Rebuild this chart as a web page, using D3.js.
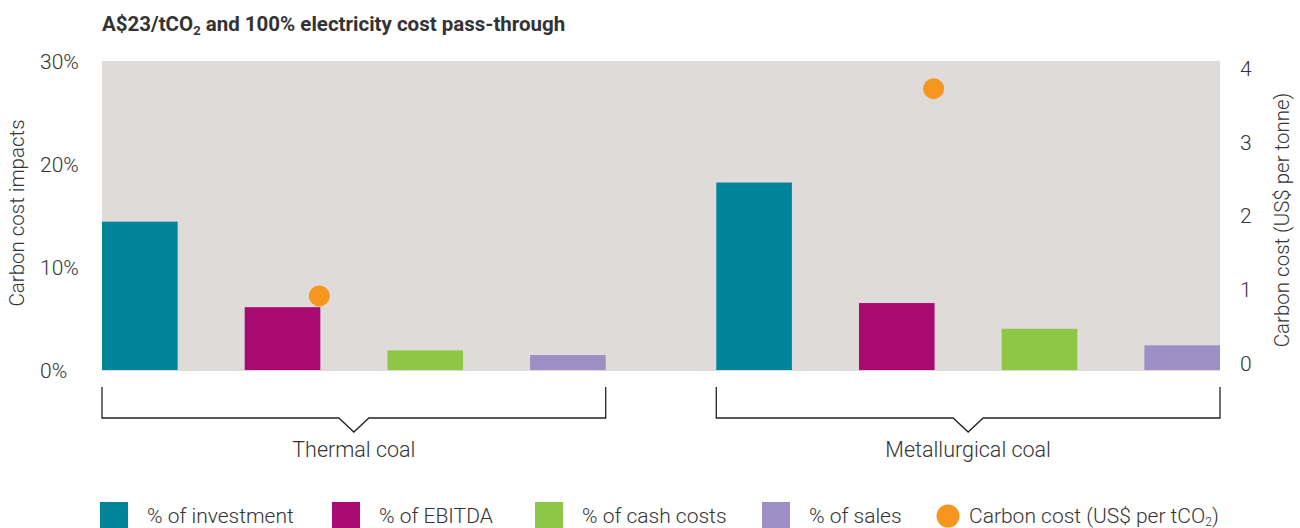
<!DOCTYPE html>
<html><head><meta charset="utf-8">
<script src="https://cdn.jsdelivr.net/npm/d3@7"></script>
<style>
body{margin:0;background:#fff;}
text{font-family:Roboto,"Noto Sans",sans-serif;fill:#333;}
</style></head>
<body><svg id="c" width="1300" height="528"></svg>
<script>
const groups = ["Thermal coal", "Metallurgical coal"];
const seriesNames = ["% of investment", "% of EBITDA", "% of cash costs", "% of sales"];
const investment = [14.4, 18.2];
const ebitda = [6.1, 6.5];
const cashCosts = [1.9, 4.0];
const sales = [1.45, 2.4];
const carbonCost = [0.91, 3.72];
const leftTicks = [0, 10, 20, 30];
const rightTicks = [0, 1, 2, 3, 4];
const colors = ["#00849a", "#a90a72", "#8dc745", "#9d8fc4"];
const dotColor = "#f7961f";

const seriesVals = [investment, ebitda, cashCosts, sales];
const svg = d3.select("#c");

const x0 = d3.scaleBand().domain(groups).range([102, 1220]).paddingInner(0.18).paddingOuter(0);
const x1 = d3.scaleBand().domain(seriesNames).range([0, x0.bandwidth()]).paddingInner(0.47).paddingOuter(0);
const y = d3.scaleLinear().domain([0, 30]).range([370, 61]);
const y2 = d3.scaleLinear().domain([0, 4]).range([363, 68]);

// background
svg.append("rect").attr("x", 102).attr("y", y(30)).attr("width", 1220 - 102).attr("height", 371 - y(30)).attr("fill", "#dfdbd8");

// bars
groups.forEach((g, gi) => {
  seriesNames.forEach((s, si) => {
    const v = seriesVals[si][gi];
    svg.append("rect")
      .attr("x", x0(g) + x1(s))
      .attr("y", y(v))
      .attr("width", x1.bandwidth())
      .attr("height", y(0) - y(v))
      .attr("fill", colors[si]);
  });
  svg.append("circle")
    .attr("cx", x0(g) + x1(seriesNames[1]) + x1.bandwidth() - 1)
    .attr("cy", y2(carbonCost[gi]))
    .attr("r", 10.5)
    .attr("fill", dotColor);
});

// left axis
const la = svg.append("g").attr("transform", "translate(40,0)")
  .call(d3.axisLeft(y).tickValues(leftTicks).tickFormat(d => d + "%").tickSize(0));
la.select(".domain").remove();
la.selectAll("text").attr("x", 0).attr("text-anchor", "start").attr("font-size", 21).attr("font-family", "Roboto").attr("font-weight", 300).attr("fill", "#333").attr("dy", "0.35em");

// right axis
const ra = svg.append("g").attr("transform", "translate(1240,0)")
  .call(d3.axisRight(y2).tickValues(rightTicks).tickFormat(d3.format("d")).tickSize(0));
ra.select(".domain").remove();
ra.selectAll("text").attr("x", 0).attr("text-anchor", "start").attr("font-size", 21).attr("font-family", "Roboto").attr("font-weight", 300).attr("fill", "#333").attr("dy", "0.35em");

// axis titles
svg.append("text").attr("transform", "translate(24,213) rotate(-90)").attr("text-anchor", "middle")
  .attr("font-size", 20.5).attr("font-weight", 300).text("Carbon cost impacts");
svg.append("text").attr("transform", "translate(1289,220) rotate(-90)").attr("text-anchor", "middle")
  .attr("font-size", 20.5).attr("font-weight", 300).text("Carbon cost (US$ per tonne)");

// title
const t = svg.append("text").attr("x", 102).attr("y", 31).attr("font-size", 20.5).attr("font-weight", 700).attr("fill", "#222");
t.append("tspan").text("A$23/tCO");
t.append("tspan").attr("font-size", 13).attr("dy", 4).text("2");
t.append("tspan").attr("dy", -4).text(" and 100% electricity cost pass-through");

// brackets
groups.forEach(g => {
  const l = x0(g), r = x0(g) + x0.bandwidth(), c = (l + r) / 2;
  const p = d3.path();
  p.moveTo(l, 387); p.lineTo(l, 418); p.lineTo(c - 15, 418); p.lineTo(c, 432); p.lineTo(c + 15, 418); p.lineTo(r, 418); p.lineTo(r, 387);
  svg.append("path").attr("d", p.toString()).attr("fill", "none").attr("stroke", "#222").attr("stroke-width", 1.3);
  svg.append("text").attr("x", c).attr("y", 457).attr("text-anchor", "middle").attr("font-size", 21.5).attr("font-weight", 300).text(g);
});

// legend
const legX = [100, 332, 535, 762];
seriesNames.forEach((s, i) => {
  svg.append("rect").attr("x", legX[i]).attr("y", 502).attr("width", 28).attr("height", 27).attr("fill", colors[i]);
  svg.append("text").attr("x", legX[i] + 47).attr("y", 523).attr("font-size", 21).attr("font-weight", 300).text(s);
});
svg.append("circle").attr("cx", 948).attr("cy", 516).attr("r", 11.5).attr("fill", dotColor);
const lt = svg.append("text").attr("x", 969).attr("y", 523).attr("font-size", 21).attr("font-weight", 300);
lt.append("tspan").text("Carbon cost (US$ per tCO");
lt.append("tspan").attr("font-size", 12).attr("dy", 2.5).text("2");
lt.append("tspan").attr("dy", -2.5).text(")");
</script></body></html>
